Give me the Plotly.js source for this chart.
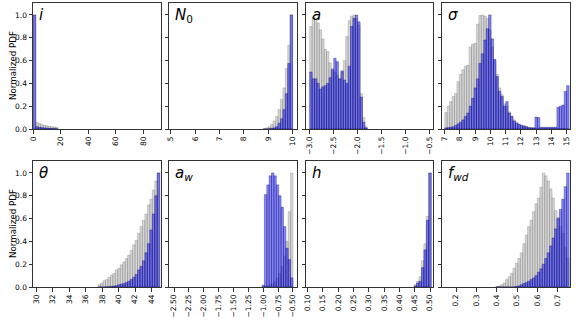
<!DOCTYPE html>
<html>
<head>
<meta charset="utf-8">
<script src="https://cdn.plot.ly/plotly-3.0.1.min.js"></script>
<style>
  body { margin: 0; padding: 0; background: #fff; }
  #plot { width: 581px; height: 323px; }
</style>
</head>
<body>
<div id="plot"></div>
<script>
// panel names (drawn as italic labels)
var names = ["<i>i</i>", "<i>N</i><sub>0</sub>", "<i>a</i>", "<i>σ</i>",
             "<i>θ</i>", "<i>a</i><sub><i>w</i></sub>", "<i>h</i>", "<i>f</i><sub><i>wd</i></sub>"];
var yLabel = "Normalized PDF";

// histogram bins: first left edge and bin width, then normalized heights
var iStart = 0, iWidth = 1.8;
var iGray = [1.0, 0.058, 0.047, 0.038, 0.032, 0.028, 0.024, 0.02, 0.018, 0.015];
var iBlue = [1.0, 0.02, 0.015, 0.012, 0.01, 0.008, 0.006, 0.004, 0.003, 0.002];

var n0Start = 8.8, n0Width = 0.1;
var n0Gray = [0.005, 0.01, 0.02, 0.04, 0.07, 0.11, 0.17, 0.26, 0.36, 0.53, 0.735, 1.0];
var n0Blue = [0, 0, 0.002, 0.005, 0.01, 0.02, 0.05, 0.09, 0.17, 0.31, 0.575, 1.0];

var aStart = -3.0, aWidth = 0.05;
var aGray = [0.90, 0.98, 0.97, 0.93, 0.87, 0.79, 0.70, 0.68, 0.58, 0.53, 0.50, 0.47,
             0.44, 0.50, 0.60, 0.81, 0.95, 0.99, 1.0, 0.97, 0.91, 0.31, 0.10, 0.02];
var aBlue = [0.50, 0.44, 0.44, 0.40, 0.35, 0.37, 0.38, 0.40, 0.45, 0.52, 0.62, 0.59,
             0.44, 0.51, 0.43, 0.40, 0.55, 0.90, 0.97, 1.0, 0.94, 0.28, 0.06, 0.01];

var sigStart = 7.0, sigWidth = 0.16;
var sigGray = [0.145, 0.20, 0.24, 0.285, 0.31, 0.415, 0.48, 0.52, 0.55, 0.56,
               0.72, 0.745, 0.75, 0.92, 0.995, 1.0, 0.99, 0.97, 0.87, 0.72,
               0.60, 0.48, 0.36, 0.30, 0.22, 0.20, 0.15, 0.11, 0.08, 0.06,
               0.045, 0.035, 0.03, 0.02, 0.015, 0.012, 0.01, 0.008, 0.006, 0.005,
               0.005, 0.005, 0.005, 0.005, 0.005, 0.005, 0.005, 0.005, 0.005, 0.005, 0.005];
var sigBlue = [0.01, 0.012, 0.015, 0.02, 0.03, 0.045, 0.06, 0.08, 0.11, 0.14,
               0.20, 0.27, 0.36, 0.44, 0.575, 0.66, 0.78, 0.88, 1.0, 0.79,
               0.61, 0.46, 0.33, 0.285, 0.20, 0.24, 0.14, 0.11, 0.07, 0.05,
               0.04, 0.03, 0.025, 0.02, 0.012, 0.01, 0.01, 0.105, 0.10, 0.015,
               0.015, 0.015, 0.015, 0.015, 0.015, 0.015, 0.19, 0.20, 0.21, 0.33, 0.38];

var thStart = 37.5, thWidth = 0.3;
var thGray = [0.02, 0.035, 0.055, 0.065, 0.085, 0.105, 0.12, 0.15, 0.165, 0.195,
              0.22, 0.25, 0.28, 0.32, 0.37, 0.41, 0.47, 0.53, 0.585, 0.64,
              0.72, 0.77, 0.85, 0.93, 1.0];
var thBlue = [0, 0, 0, 0.002, 0.003, 0.005, 0.008, 0.012, 0.02, 0.025,
              0.03, 0.04, 0.05, 0.065, 0.085, 0.11, 0.15, 0.18, 0.23, 0.30,
              0.38, 0.50, 0.64, 0.80, 1.0];

var awStart = -1.02, awWidth = 0.04;
var awGray = [0.0, 0.005, 0.01, 0.02, 0.03, 0.05, 0.08, 0.12, 0.18, 0.27, 0.40, 0.66, 1.0];
var awBlue = [0.015, 0.81, 0.895, 0.975, 1.0, 0.975, 0.895, 0.80, 0.70, 0.53, 0.34, 0.24, 0.08];

var hStart = 0.448, hWidth = 0.008;
var hGray = [0.02, 0.05, 0.09, 0.23, 0.38, 0.62, 1.0];
var hBlue = [0.01, 0.035, 0.05, 0.17, 0.325, 0.585, 1.0];

var fStart = 0.396, fWidth = 0.012;
var fGray = [0.005, 0.01, 0.02, 0.035, 0.065, 0.09, 0.12, 0.165, 0.21, 0.25,
             0.30, 0.38, 0.455, 0.53, 0.585, 0.66, 0.73, 0.78, 0.875, 1.0,
             0.975, 0.93, 0.86, 0.78, 0.67, 0.61, 0.53, 0.47, 0.35, 0.25];
var fBlue = [0, 0, 0, 0, 0, 0, 0, 0, 0.005, 0.01,
             0.02, 0.03, 0.04, 0.05, 0.065, 0.08, 0.10, 0.13, 0.16, 0.20,
             0.25, 0.30, 0.36, 0.43, 0.51, 0.60, 0.68, 0.77, 0.88, 1.0];

// axis settings per panel
var xRanges = [[-0.2, 92.9], [4.93, 10.18], [-3.078, -0.43], [6.82, 15.22],
               [29.58, 45.16], [-2.585, -0.432], [0.0945, 0.5098], [0.131, 0.7605]];
var xTick0 = [0, 5, -3.0, 7, 30, -2.5, 0.1, 0.2];
var xDtick = [20, 1, 0.5, 1, 2, 0.25, 0.05, 0.1];
var xFormat = ["d", "d", ".1f", "d", "d", ".2f", ".2f", ".1f"];

var starts = [iStart, n0Start, aStart, sigStart, thStart, awStart, hStart, fStart];
var widths = [iWidth, n0Width, aWidth, sigWidth, thWidth, awWidth, hWidth, fWidth];
var grays = [iGray, n0Gray, aGray, sigGray, thGray, awGray, hGray, fGray];
var blues = [iBlue, n0Blue, aBlue, sigBlue, thBlue, awBlue, hBlue, fBlue];

// panel frames in pixels
var W = 581, H = 323;
var colPx = [[33, 161], [169, 297], [306, 433], [442, 570]];
var rowPx = [[3, 129], [161, 287]];

var traces = [];
var layout = {
  width: W, height: H,
  margin: {l: 0, r: 0, t: 0, b: 0},
  paper_bgcolor: 'white', plot_bgcolor: 'white',
  barmode: 'overlay',
  showlegend: false,
  font: {family: 'DejaVu Sans', size: 7.5, color: '#000'},
  annotations: []
};

for (var p = 0; p < 8; p++) {
  var sfx = p === 0 ? '' : String(p + 1);
  var centers = grays[p].map(function (v, k) { return starts[p] + widths[p] * (k + 0.5); });
  traces.push({
    type: 'bar', x: centers, y: grays[p], width: widths[p],
    xaxis: 'x' + sfx, yaxis: 'y' + sfx,
    marker: {color: 'rgba(150,150,150,0.38)', line: {color: 'rgba(100,100,100,0.4)', width: 0.7}}
  });
  traces.push({
    type: 'bar', x: centers, y: blues[p], width: widths[p],
    xaxis: 'x' + sfx, yaxis: 'y' + sfx,
    marker: {color: 'rgba(20,20,245,0.5)', line: {color: 'rgba(0,0,110,0.5)', width: 0.7}}
  });

  var c = colPx[p % 4], r = rowPx[Math.floor(p / 4)];
  layout['xaxis' + sfx] = {
    domain: [c[0] / W, c[1] / W],
    anchor: 'y' + sfx,
    range: xRanges[p],
    tick0: xTick0[p], dtick: xDtick[p], tickformat: xFormat[p],
    tickangle: -90,
    ticks: 'outside', ticklen: 3.5, tickwidth: 0.8, tickcolor: '#000',
    showline: true, mirror: true, linecolor: '#333', linewidth: 1,
    showgrid: false, zeroline: false,
    tickfont: {size: 7.5}
  };
  layout['yaxis' + sfx] = {
    domain: [(H - r[1]) / H, (H - r[0]) / H],
    anchor: 'x' + sfx,
    range: [0, 1.105],
    tick0: 0, dtick: 0.2, tickformat: '.1f',
    showticklabels: p % 4 === 0,
    ticks: 'outside', ticklen: 3.5, tickwidth: 0.8, tickcolor: '#000',
    showline: true, mirror: true, linecolor: '#333', linewidth: 1,
    showgrid: false, zeroline: false,
    tickfont: {size: 7.5}
  };
  if (p % 4 === 0) {
    // y label placed by hand so it sits where matplotlib put it
    layout.annotations.push({
      xref: 'paper', yref: 'y' + sfx + ' domain',
      x: 13 / W, y: 0.5, xanchor: 'center', yanchor: 'middle',
      text: yLabel, textangle: -90, showarrow: false,
      font: {family: 'DejaVu Sans', size: 8.7, color: '#000'}
    });
  }
  layout.annotations.push({
    xref: 'x' + sfx + ' domain', yref: 'y' + sfx + ' domain',
    x: 0.03, y: 0.995, xanchor: 'left', yanchor: 'top',
    text: names[p], showarrow: false,
    font: {family: 'DejaVu Sans', size: 15, color: '#000'}
  });
}

Plotly.newPlot('plot', traces, layout, {staticPlot: true});
</script>
</body>
</html>
